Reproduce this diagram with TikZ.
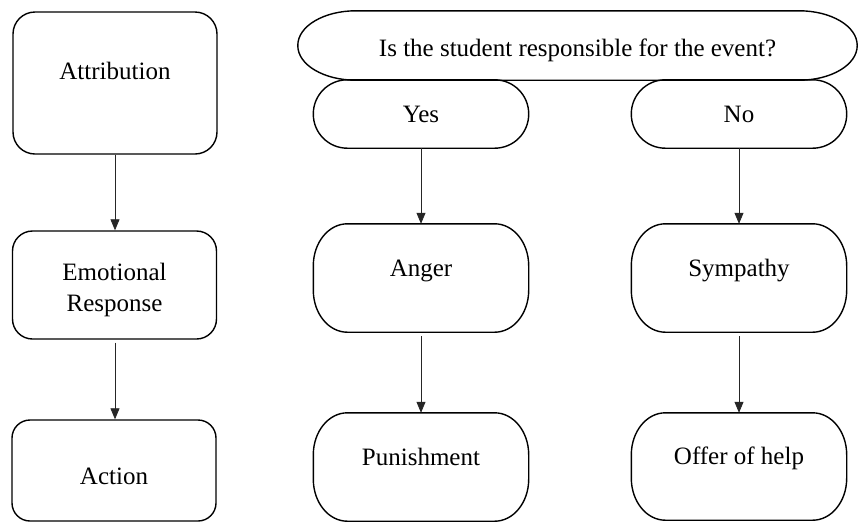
\documentclass[tikz,border=0pt]{standalone}
\usepackage{fontspec}
\setmainfont{Liberation Serif}
\usetikzlibrary{arrows.meta,calc}
\tikzset{
  boxline/.style={draw=black, line width=1.4pt},
  shapebox/.style={rectangle, align=center, inner sep=0pt,
    font=\fontsize{25}{31}\selectfont},
  leftbox/.style={shapebox, boxline, minimum width=204pt},
  pill/.style={shapebox, minimum width=215pt, minimum height=68pt},
  roundbox/.style={shapebox, minimum width=215pt, minimum height=108pt},
  txtpos/.style 2 args={text height=#1pt, text depth=#2pt},
  arr/.style={-{Triangle[length=11pt,width=9pt]}, line width=0.8pt, draw=black!85},
}
% rectangle with elliptic corners drawn round a node: #1 node, #2 x radius, #3 y radius
\newcommand\ellcorners[3]{%
  \draw[boxline] ($(#1.north west)+(#2pt,0pt)$) -- ($(#1.north east)+(-#2pt,0pt)$)
    arc[start angle=90, end angle=0, x radius=#2pt, y radius=#3pt]
    -- ($(#1.south east)+(0pt,#3pt)$)
    arc[start angle=0, end angle=-90, x radius=#2pt, y radius=#3pt]
    -- ($(#1.south west)+(#2pt,0pt)$)
    arc[start angle=270, end angle=180, x radius=#2pt, y radius=#3pt]
    -- ($(#1.north west)+(0pt,-#3pt)$)
    arc[start angle=180, end angle=90, x radius=#2pt, y radius=#3pt] -- cycle;}
\begin{document}
\begin{tikzpicture}[x=1pt,y=-1pt]
\useasboundingbox (0,0) rectangle (859,523);
% left column
\node[leftbox, rounded corners=22pt, minimum height=142pt, txtpos={17}{25}] (att) at (115,83) {Attribution};
\node[leftbox, rounded corners=20pt, minimum height=108pt, txtpos={58}{5.4}] (emo) at (114.5,285) {Emotional\\Response};
\node[leftbox, rounded corners=18pt, minimum height=101pt, txtpos={27}{0}] (act) at (114,470.5) {Action};
\draw[arr] (att.south) -- (att.south |- emo.north);
\draw[arr, shorten <=3pt] (att.south |- emo.south) -- (att.south |- act.north);
% question
\node[shapebox, minimum width=559pt, minimum height=69pt, txtpos={21}{0}] (q) at (577.5,45.5) {Is the student responsible for the event?};
\ellcorners{q}{58}{34.5}
% yes / no
\node[pill, txtpos={17}{0}] (yes) at (421,114) {Yes};
\ellcorners{yes}{34}{34}
\node[pill, txtpos={17}{0}] (no) at (739,114) {No};
\ellcorners{no}{34}{34}
% emotions
\node[roundbox, txtpos={17}{21}] (anger) at (421,278) {Anger};
\ellcorners{anger}{34}{42}
\node[roundbox, txtpos={17}{21}] (symp) at (739,278) {Sympathy};
\ellcorners{symp}{34}{42}
% actions
\node[roundbox, txtpos={17}{21}] (pun) at (421,467) {Punishment};
\ellcorners{pun}{34}{42}
\node[roundbox, minimum height=107pt, txtpos={17}{21}] (offer) at (739,466.5) {Offer of help};
\ellcorners{offer}{34}{42}
\draw[arr] (yes.south) -- (anger.north);
\draw[arr] (no.south) -- (symp.north);
\draw[arr, shorten <=4pt] (anger.south) -- (pun.north);
\draw[arr, shorten <=4pt] (symp.south) -- (offer.north);
\end{tikzpicture}
\end{document}
